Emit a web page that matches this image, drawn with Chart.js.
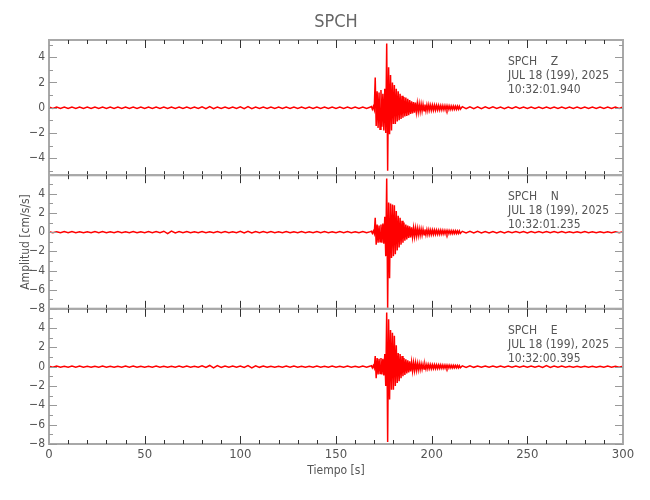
<!DOCTYPE html>
<html>
<head>
<meta charset="utf-8">
<script src="https://cdn.jsdelivr.net/npm/chart.js@4.4.1/dist/chart.umd.min.js"></script>
<style>
  html, body { margin: 0; padding: 0; background: #fff; }
  #wrap { width: 650px; height: 500px; }
</style>
</head>
<body>
<div id="wrap"><canvas id="myChart" width="650" height="500"></canvas></div>
<script>
// sample times [s]: quiet part every 2 s, event + coda every 0.5 s, tail every 2 s
var times = [
  0,2,4,6,8,10,12,14,16,18,
  20,22,24,26,28,30,32,34,36,38,
  40,42,44,46,48,50,52,54,56,58,
  60,62,64,66,68,70,72,74,76,78,
  80,82,84,86,88,90,92,94,96,98,
  100,102,104,106,108,110,112,114,116,118,
  120,122,124,126,128,130,132,134,136,138,
  140,142,144,146,148,150,152,154,156,158,
  160,162,164,166,168,
  168.5,169,169.5,170,170.5,171,171.5,172,172.5,173,
  173.5,174,174.5,175,175.5,176,176.5,177,177.5,178,
  178.5,179,179.5,180,180.5,181,181.5,182,182.5,183,
  183.5,184,184.5,185,185.5,186,186.5,187,187.5,188,
  188.5,189,189.5,190,190.5,191,191.5,192,192.5,193,
  193.5,194,194.5,195,195.5,196,196.5,197,197.5,198,
  198.5,199,199.5,200,
  200.5,201,201.5,202,202.5,203,203.5,204,204.5,205,
  205.5,206,206.5,207,207.5,208,208.5,209,209.5,210,
  210.5,211,211.5,212,212.5,213,213.5,214,214.5,215,
  216,218,220,222,224,226,228,230,232,234,
  236,238,240,242,244,246,248,250,252,254,
  256,258,260,262,264,266,268,270,272,274,
  276,278,280,282,284,286,288,290,292,294,
  296,298,300
];

// amplitude [cm/s/s], component Z
var ampZ = [
  0.05,-0.05,0.06,-0.05,0.05,-0.06,0.05,-0.05,0.06,-0.05,
  0.05,-0.06,0.06,-0.05,0.05,-0.05,0.05,-0.06,0.05,-0.05,
  0.06,-0.05,0.05,-0.05,0.06,-0.06,0.05,-0.05,0.05,-0.05,
  0.05,-0.06,0.06,-0.05,0.05,-0.05,0.06,-0.05,0.05,-0.06,
  0.07,-0.07,0.08,-0.07,0.06,-0.05,0.05,-0.06,0.06,-0.05,
  0.07,-0.07,0.08,-0.07,0.06,-0.05,0.05,-0.05,0.06,-0.05,
  0.05,-0.06,0.05,-0.05,0.06,-0.05,0.05,-0.06,0.05,-0.05,
  0.06,-0.05,0.05,-0.06,0.06,-0.05,0.05,-0.05,0.06,-0.06,
  0.05,-0.05,0.06,-0.05,0.06,
  0.1,-0.12,0.1,-0.15,2.4,-1.45,1.3,-1.6,1.2,-1.7,
  1.4,-1.5,1.1,-1.8,1.5,-2.0,5.1,-5.0,3.2,-2.1,
  2.6,-1.8,2.0,-1.3,1.8,-1.3,1.5,-1.1,1.3,-1.0,
  1.1,-0.9,0.95,-0.8,0.85,-0.7,0.8,-0.65,0.7,-0.6,
  0.6,-0.5,0.5,-0.45,0.45,-0.4,0.4,-0.35,0.35,-0.32,
  0.3,-0.3,0.28,-0.27,0.26,-0.25,0.25,-0.24,0.22,-0.22,
  0.22,-0.2,0.2,-0.2,
  0.2,-0.19,0.19,-0.18,0.18,-0.17,0.17,-0.17,0.16,-0.16,
  0.16,-0.15,0.15,-0.15,0.15,-0.14,0.14,-0.14,0.14,-0.13,
  0.13,-0.13,0.13,-0.12,0.12,-0.12,0.12,-0.11,0.11,-0.11,
  0.08,-0.08,0.07,-0.08,0.07,-0.07,0.07,-0.06,0.07,-0.06,
  0.06,-0.07,0.06,-0.06,0.07,-0.06,0.06,-0.06,0.06,-0.05,
  0.06,-0.05,0.05,-0.06,0.05,-0.05,0.06,-0.05,0.05,-0.05,
  0.05,-0.06,0.05,-0.05,0.05,-0.05,0.06,-0.05,0.05,-0.05,
  0.05,-0.05,0.05
];

// component N
var ampN = [
  0.06,-0.05,0.05,-0.06,0.06,-0.05,0.06,-0.05,0.05,-0.06,
  0.05,-0.06,0.06,-0.05,0.06,-0.05,0.05,-0.06,0.06,-0.05,
  0.05,-0.05,0.06,-0.06,0.05,-0.06,0.06,-0.05,0.06,-0.05,
  0.1,-0.14,0.12,-0.08,0.06,-0.05,0.06,-0.06,0.05,-0.05,
  0.06,-0.06,0.05,-0.06,0.06,-0.05,0.06,-0.05,0.05,-0.06,
  0.08,-0.09,0.1,-0.08,0.06,-0.05,0.06,-0.05,0.06,-0.05,
  0.05,-0.06,0.06,-0.05,0.05,-0.06,0.06,-0.05,0.05,-0.06,
  0.06,-0.05,0.06,-0.05,0.05,-0.06,0.06,-0.05,0.06,-0.05,
  0.05,-0.06,0.06,-0.05,0.06,
  0.1,-0.12,0.12,-0.15,1.5,-1.3,0.8,-1.1,0.7,-1.0,
  0.8,-1.1,0.9,-1.2,1.6,-2.5,5.6,-7.9,3.1,-4.8,
  3.0,-2.7,2.9,-2.5,2.8,-2.3,2.2,-1.9,1.7,-1.6,
  1.5,-1.3,1.2,-1.1,1.0,-0.9,0.8,-0.75,0.7,-0.6,
  0.6,-0.55,0.5,-0.5,0.45,-0.45,0.42,-0.4,0.38,-0.36,
  0.34,-0.33,0.32,-0.3,0.3,-0.28,0.28,-0.27,0.26,-0.25,
  0.25,-0.24,0.23,-0.23,
  0.23,-0.22,0.22,-0.21,0.21,-0.2,0.2,-0.2,0.19,-0.19,
  0.18,-0.18,0.18,-0.17,0.17,-0.17,0.16,-0.16,0.16,-0.15,
  0.15,-0.15,0.15,-0.14,0.14,-0.14,0.13,-0.13,0.13,-0.13,
  0.09,-0.09,0.08,-0.08,0.08,-0.08,0.07,-0.08,0.07,-0.07,
  0.07,-0.07,0.07,-0.06,0.07,-0.06,0.06,-0.07,0.06,-0.06,
  0.06,-0.06,0.06,-0.06,0.06,-0.05,0.06,-0.05,0.05,-0.06,
  0.05,-0.05,0.06,-0.05,0.05,-0.05,0.05,-0.06,0.05,-0.05,
  0.05,-0.05,0.05
];

// component E
var ampE = [
  0.05,-0.05,0.06,-0.06,0.05,-0.05,0.06,-0.05,0.06,-0.05,
  0.05,-0.06,0.05,-0.05,0.06,-0.05,0.05,-0.06,0.05,-0.05,
  0.06,-0.05,0.06,-0.05,0.05,-0.06,0.05,-0.05,0.06,-0.05,
  0.05,-0.06,0.05,-0.05,0.06,-0.05,0.06,-0.05,0.05,-0.06,
  0.08,-0.09,0.12,-0.13,0.1,-0.08,0.06,-0.05,0.06,-0.05,
  0.07,-0.08,0.1,-0.12,0.09,-0.07,0.06,-0.05,0.05,-0.06,
  0.05,-0.05,0.06,-0.05,0.06,-0.05,0.05,-0.06,0.05,-0.05,
  0.06,-0.05,0.05,-0.06,0.06,-0.05,0.05,-0.05,0.06,-0.06,
  0.05,-0.05,0.06,-0.05,0.06,
  0.1,-0.12,0.12,-0.14,1.1,-1.2,0.9,-0.8,0.8,-0.7,
  0.9,-0.8,0.8,-0.9,1.3,-2.0,5.6,-7.8,4.9,-3.4,
  3.8,-2.4,3.5,-2.4,3.2,-2.0,2.2,-1.7,1.4,-1.5,
  1.3,-1.2,1.1,-1.0,0.9,-0.85,0.75,-0.7,0.65,-0.6,
  0.55,-0.5,0.48,-0.45,0.42,-0.4,0.4,-0.38,0.35,-0.33,
  0.32,-0.3,0.28,-0.27,0.26,-0.25,0.24,-0.23,0.22,-0.22,
  0.21,-0.2,0.2,-0.2,
  0.2,-0.19,0.19,-0.19,0.18,-0.18,0.17,-0.17,0.17,-0.16,
  0.16,-0.16,0.15,-0.15,0.15,-0.14,0.14,-0.14,0.14,-0.13,
  0.13,-0.13,0.13,-0.12,0.12,-0.12,0.12,-0.12,0.11,-0.11,
  0.08,-0.08,0.08,-0.07,0.07,-0.07,0.07,-0.07,0.06,-0.07,
  0.06,-0.06,0.07,-0.06,0.06,-0.06,0.06,-0.06,0.06,-0.06,
  0.07,-0.09,0.1,-0.08,0.06,-0.05,0.06,-0.05,0.05,-0.05,
  0.05,-0.06,0.05,-0.05,0.05,-0.05,0.05,-0.05,0.06,-0.05,
  0.05,-0.05,0.05
];

var station = 'SPCH';
var components = ['Z', 'N', 'E'];
var dateLabel = 'JUL 18 (199), 2025';
var startTimes = ['10:32:01.940', '10:32:01.235', '10:32:00.395'];
var yRanges = [[-5.35, 5.37], [-8.0, 5.95], [-8.0, 5.98]];
var panelHeights = [135, 133.5, 135];
var xTitle = 'Tiempo [s]';
var yTitle = 'Amplitud [cm/s/s]';

var FONT = '"Liberation Sans Narrow", "DejaVu Sans Condensed", "Liberation Sans", sans-serif';
var panelIds = ['yZ', 'yN', 'yE'];

function toXY(vals) {
    return vals.map(function (v, i) { return { x: times[i], y: v }; });
}

function minusLabel(v) {
    return v < 0 ? '\u2212' + Math.abs(v) : '' + v;
}

// frame, inward ticks and text
var framePlugin = {
    id: 'frame',
    afterDatasetsDraw: function (chart) {
        var c = chart.ctx;
        var area = chart.chartArea;
        var xs = chart.scales.x;
        function seg(x1, y1, x2, y2) {
            c.beginPath(); c.moveTo(x1, y1); c.lineTo(x2, y2); c.stroke();
        }
        c.save();
        panelIds.forEach(function (id, i) {
            var s = chart.scales[id];
            c.strokeStyle = '#a8a8a8';
            c.lineWidth = 2;
            c.strokeRect(area.left, s.top, area.right - area.left, s.bottom - s.top);
            c.lineWidth = 1;
            c.strokeStyle = '#333';
            for (var t = 10; t < 300; t += 10) {
                var px = Math.round(xs.getPixelForValue(t)) + 0.5;
                var len = t % 50 === 0 ? 8 : 4;
                seg(px, s.top, px, s.top + len);
                seg(px, s.bottom, px, s.bottom - len);
            }
            c.strokeStyle = '#999';
            for (var v = Math.ceil(s.min); v <= s.max; v++) {
                var py = Math.round(s.getPixelForValue(v)) + 0.5;
                var l = v % 2 === 0 ? 8 : 4;
                seg(area.left, py, area.left + l, py);
                seg(area.right, py, area.right - l, py);
            }
            c.fillStyle = '#555';
            c.font = '12px ' + FONT;
            c.textAlign = 'left';
            c.textBaseline = 'middle';
            c.fillText(station + '    ' + components[i], 508, s.top + 22);
            c.fillText(dateLabel, 508, s.top + 36);
            c.fillText(startTimes[i], 508, s.top + 50);
        });
        var mid = (area.left + area.right) / 2;
        c.textAlign = 'center';
        c.fillStyle = '#666';
        c.font = '18px ' + FONT;
        c.fillText(station, mid, 22);
        c.fillStyle = '#555';
        c.font = '12px ' + FONT;
        c.fillText(xTitle, mid, 471);
        var sN = chart.scales.yN;
        c.translate(26, (sN.top + sN.bottom) / 2);
        c.rotate(-Math.PI / 2);
        c.fillText(yTitle, 0, 0);
        c.restore();
    }
};

function yScale(i) {
    return {
        type: 'linear',
        position: 'left',
        stack: 'panels',
        stackWeight: panelHeights[i],
        weight: 3 - i,
        min: yRanges[i][0],
        max: yRanges[i][1],
        grid: { display: false, drawTicks: false, tickLength: 0 },
        border: { display: false },
        ticks: {
            stepSize: 2,
            autoSkip: false,
            includeBounds: false,
            padding: 4,
            color: '#555',
            font: { family: FONT, size: 12 },
            callback: minusLabel
        },
        afterFit: function (s) { s.width = 49; }
    };
}

var ctx = document.getElementById('myChart');
var myChart = new Chart(ctx, {
    type: 'line',
    data: {
        datasets: [ampZ, ampN, ampE].map(function (a, i) {
            return {
                label: station + ' ' + components[i],
                data: toXY(a),
                yAxisID: panelIds[i],
                borderColor: 'rgb(255, 0, 0)',
                borderWidth: 1.5,
                pointRadius: 0,
                tension: 0
            };
        })
    },
    options: {
        responsive: false,
        animation: false,
        layout: { padding: { top: 40, right: 27, left: 0, bottom: 0 } },
        plugins: { legend: { display: false }, tooltip: { enabled: false }, title: { display: false } },
        scales: {
            x: {
                type: 'linear',
                min: 0,
                max: 300,
                grid: { display: false, drawTicks: false, tickLength: 0 },
                border: { display: false },
                ticks: {
                    stepSize: 50,
                    padding: 3,
                    maxRotation: 0,
                    color: '#555',
                    font: { family: FONT, size: 13 }
                },
                afterFit: function (s) { s.height = 56; }
            },
            yZ: yScale(0),
            yN: yScale(1),
            yE: yScale(2)
        }
    },
    plugins: [framePlugin]
});
</script>
</body>
</html>
